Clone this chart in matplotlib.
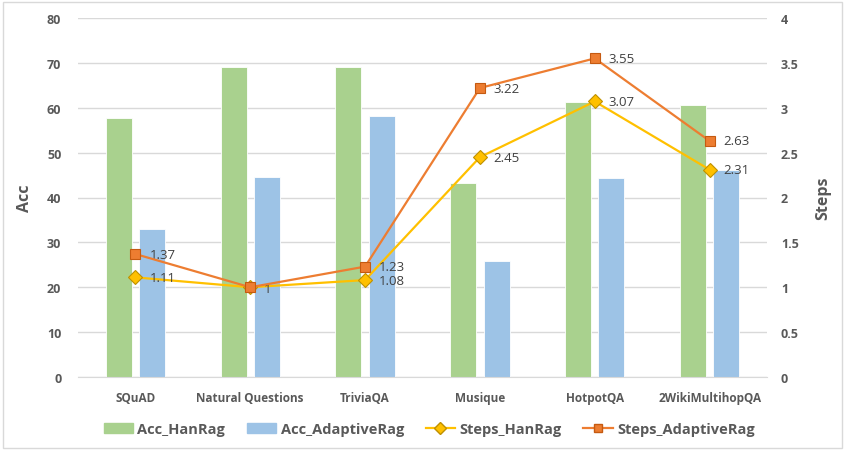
import matplotlib
matplotlib.use("Agg")
import matplotlib.pyplot as plt
import numpy as np
from matplotlib.patches import Rectangle
from matplotlib.lines import Line2D

categories = ["SQuAD", "Natural Questions", "TriviaQA", "Musique", "HotpotQA", "2WikiMultihopQA"]
acc_hanrag = [57.7, 69.1, 69.1, 43.2, 61.2, 60.6]
acc_adaptive = [33.0, 44.6, 58.1, 25.9, 44.3, 46.2]
steps_hanrag = [1.11, 1.0, 1.08, 2.45, 3.07, 2.31]
steps_adaptive = [1.37, 1.0, 1.23, 3.22, 3.55, 2.63]
step_labels_han = ["1.11", "", "1.08", "2.45", "3.07", "2.31"]
step_labels_ada = ["1.37", "1", "1.23", "3.22", "3.55", "2.63"]

plt.rcParams['font.family'] = ['Open Sans', 'DejaVu Sans']

fig = plt.figure(figsize=(8.45, 4.52), dpi=100)
ax = fig.add_axes([78/845, 1-378/452, 689/845, 359/452])
ax2 = ax.twinx()

x = np.arange(len(categories))
bw = 0.226
green = "#A9D18E"
blue = "#9DC3E6"
ax.bar(x - 0.145, acc_hanrag, bw, color=green, edgecolor="white", linewidth=0.6, zorder=2)
ax.bar(x + 0.145, acc_adaptive, bw, color=blue, edgecolor="white", linewidth=0.6, zorder=2)

ax.set_xlim(-0.5, len(categories) - 0.5)
ax.set_ylim(0, 80)
ax.set_yticks(range(0, 81, 10))
ax2.set_ylim(0, 4)
ax2.set_yticks([0, 0.5, 1, 1.5, 2, 2.5, 3, 3.5, 4])
ax2.set_yticklabels(["0", "0.5", "1", "1.5", "2", "2.5", "3", "3.5", "4"])

ax.grid(axis='y', color="#D9D9D9", linewidth=1.0, zorder=0)
ax.set_axisbelow(True)
for a in (ax, ax2):
    for s in a.spines.values():
        s.set_visible(False)
    a.tick_params(length=0)
ax.spines['bottom'].set_visible(True)
ax.spines['bottom'].set_color("#D9D9D9")

tcol = "#595959"
ax.set_xticks(x)
ax.set_xticklabels(categories, fontsize=8.5, fontweight='bold', color=tcol)
ax.tick_params(axis='x', pad=10)
ax.tick_params(axis='y', labelsize=9, labelcolor=tcol, pad=12)
for lab in ax.get_yticklabels():
    lab.set_fontweight('bold')
ax2.tick_params(axis='y', labelsize=9, labelcolor=tcol, pad=10)
for lab in ax2.get_yticklabels():
    lab.set_fontweight('bold')

ax.set_ylabel("Acc", fontsize=11.5, fontweight='bold', color=tcol, labelpad=10)
ax2.set_ylabel("Steps", fontsize=11.5, fontweight='bold', color=tcol, rotation=90, labelpad=12)

ax2.plot(x, steps_hanrag, color="#FFC000", linewidth=1.6, marker='D', markersize=7,
         markerfacecolor="#FFC000", markeredgecolor="#BF9000", markeredgewidth=0.8, zorder=3)
ax2.plot(x, steps_adaptive, color="#ED7D31", linewidth=1.6, marker='s', markersize=7,
         markerfacecolor="#ED7D31", markeredgecolor="#C55A11", markeredgewidth=0.8, zorder=4)

for xi, v, t in zip(x, steps_hanrag, step_labels_han):
    if t:
        ax2.annotate(t, (xi, v), xytext=(10, 0), textcoords='offset points',
                     ha='left', va='center', fontsize=9.5, color="#404040")
for xi, v, t in zip(x, steps_adaptive, step_labels_ada):
    ax2.annotate(t, (xi, v), xytext=(10, 0 if t != "1" else -1), textcoords='offset points',
                 ha='left', va='center', fontsize=9.5, color="#404040")

handles = [
    Rectangle((0, 0), 1, 1, color=green),
    Rectangle((0, 0), 1, 1, color=blue),
    Line2D([0], [0], color="#FFC000", linewidth=1.6, marker='D', markersize=6,
           markerfacecolor="#FFC000", markeredgecolor="#BF9000"),
    Line2D([0], [0], color="#ED7D31", linewidth=1.6, marker='s', markersize=6,
           markerfacecolor="#ED7D31", markeredgecolor="#C55A11"),
]
labels = ["Acc_HanRag", "Acc_AdaptiveRag", "Steps_HanRag", "Steps_AdaptiveRag"]
leg = fig.legend(handles, labels, loc='center', bbox_to_anchor=(0.508, 1-430/452), ncol=4,
                 frameon=False, fontsize=10.5, handlelength=2.0, handleheight=0.7,
                 columnspacing=1.5, handletextpad=0.3)
for t in leg.get_texts():
    t.set_color(tcol)
    t.set_fontweight('bold')

fig.patches.append(Rectangle((3/845, 3/452), 1-6/845, 1-6/452, transform=fig.transFigure,
                             fill=False, edgecolor="#D9D9D9", linewidth=1.0))

fig.savefig("out.png", dpi=100)
